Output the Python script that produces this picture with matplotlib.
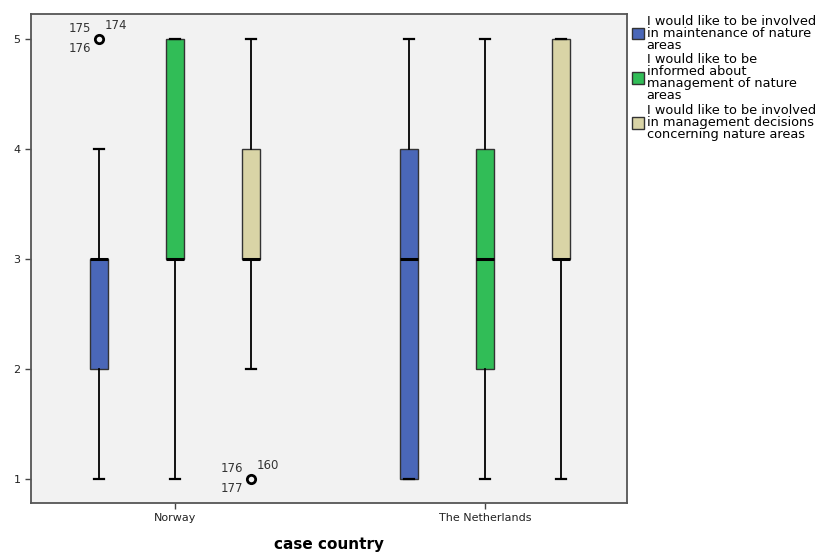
import matplotlib.pyplot as plt
from matplotlib.patches import Patch

plt.rcParams['font.family'] = 'DejaVu Sans'

# Data
countries = ['Norway', 'The Netherlands']
series = ['I would like to be involved\nin maintenance of nature\nareas',
          'I would like to be\ninformed about\nmanagement of nature\nareas',
          'I would like to be involved\nin management decisions\nconcerning nature areas']
colors = ['#4a67b8', '#31bd57', '#d9d4a6']

# per country, per series: (whislo, q1, med, q3, whishi)
stats_norway = [(1, 2, 3, 3, 4), (1, 3, 3, 5, 5), (2, 3, 3, 4, 5)]
stats_nl = [(1, 1, 3, 4, 5), (1, 2, 3, 4, 5), (1, 3, 3, 5, 5)]
outliers_norway = [[5], [], [1]]
outliers_nl = [[], [], []]
outlier_ids_norway = [['175', '174', '176'], [], ['176', '160', '177']]

fig = plt.figure(figsize=(8.26, 5.52), dpi=100)
ax = fig.add_axes([0.0375, 0.0888, 0.7215, 0.8858])
ax.set_facecolor('#f2f2f2')

offsets = [-0.245, 0.0, 0.245]
all_stats = [stats_norway, stats_nl]
all_out = [outliers_norway, outliers_nl]

for ci, (cstats, couts) in enumerate(zip(all_stats, all_out)):
    for si, (s, fl) in enumerate(zip(cstats, couts)):
        lo, q1, med, q3, hi = s
        st = dict(whislo=lo, q1=q1, med=med, q3=q3, whishi=hi, fliers=fl)
        pos = ci + offsets[si]
        ax.bxp([st], positions=[pos], widths=0.058, patch_artist=True,
               showfliers=True,
               boxprops=dict(facecolor=colors[si], edgecolor='#333333', linewidth=1),
               medianprops=dict(color='black', linewidth=2.2),
               whiskerprops=dict(color='black', linewidth=1.3),
               capprops=dict(color='black', linewidth=1.6),
               capwidths=0.03,
               flierprops=dict(marker='o', markersize=6, markerfacecolor='none',
                               markeredgecolor='black', markeredgewidth=2))

# outlier case labels
for si, ids in enumerate(outlier_ids_norway):
    if not ids:
        continue
    pos = 0 + offsets[si]
    y = outliers_norway[si][0]
    ax.annotate(ids[0], (pos, y), xytext=(-14, 3), textcoords='offset points',
                fontsize=8.5, color='#333333', ha='center', va='bottom')
    ax.annotate(ids[1], (pos, y), xytext=(12, 5), textcoords='offset points',
                fontsize=8.5, color='#333333', ha='center', va='bottom')
    ax.annotate(ids[2], (pos, y), xytext=(-14, -2), textcoords='offset points',
                fontsize=8.5, color='#333333', ha='center', va='top')

ax.set_xlim(-0.4645, 1.458)
ax.set_ylim(0.782, 5.227)
ax.set_xticks([0, 1])
ax.set_xticklabels(countries, fontsize=8, color='#222222')
ax.set_yticks([1, 2, 3, 4, 5])
ax.set_yticklabels(['1', '2', '3', '4', '5'], fontsize=8, color='#222222')
ax.tick_params(axis='both', length=4, width=1, color='#444444')
for sp in ax.spines.values():
    sp.set_color('#555555')
    sp.set_linewidth(1.3)
ax.set_xlabel('case country', fontsize=11, fontweight='bold', labelpad=10)

handles = [Patch(facecolor=c, edgecolor='#333333', linewidth=1) for c in colors]
leg = fig.legend(handles, series, loc='upper left', bbox_to_anchor=(0.7585, 0.983),
                 frameon=False, fontsize=9.3, handlelength=0.95, handleheight=1.0,
                 handletextpad=0.2, labelspacing=0.12, borderaxespad=0)
for t in leg.get_texts():
    t.set_linespacing(0.9)

fig.savefig('out.png', dpi=100)
